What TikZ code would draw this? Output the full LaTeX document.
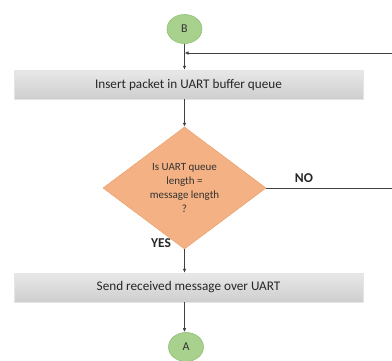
\documentclass[tikz,border=0pt]{standalone}
\usepackage{fontspec}
\setmainfont{Carlito}
\usetikzlibrary{shapes.geometric,arrows.meta}
\definecolor{cgreen}{HTML}{A9D18E}
\definecolor{cgreenb}{HTML}{8FBF72}
\definecolor{csalmon}{HTML}{F4B183}
\definecolor{csalmonb}{HTML}{E9A070}
\definecolor{linec}{HTML}{404040}
\begin{document}
\begin{tikzpicture}[x=1pt,y=-1pt,
  conn/.style={ellipse,fill=cgreen,draw=cgreenb,line width=0.6pt,minimum width=35pt,minimum height=29pt,inner sep=0pt,font=\fontsize{12}{14}\selectfont,text=black!80},
  procbox/.style={rectangle,draw=gray!20,top color=gray!18,bottom color=gray!38,minimum width=349pt,minimum height=29pt,inner sep=0pt,font=\fontsize{13.2}{15}\selectfont,text=black!85},
  decision/.style={diamond,fill=csalmon,draw=csalmonb,line width=0.5pt,minimum width=163pt,minimum height=122pt,aspect=1.34,inner sep=0pt,align=center,font=\fontsize{11}{13.7}\selectfont,text=black!80},
  flow/.style={draw=linec,line width=0.8pt,-{Latex[length=4pt,width=3.5pt]}},
  lbl/.style={font=\bfseries\fontsize{13.5}{15}\selectfont,text=black!85}
]
\useasboundingbox (0,0) rectangle (392,360);
\node[conn] (B) at (184.5,29) {B};
\node[procbox] (p1) at (188.5,84.5) {Insert packet in UART buffer queue};
\node[decision] (d) at (184.5,188) {Is UART queue\\length =\\message length\\?};
\node[procbox] (p2) at (188.5,287.5) {Send received message over UART};
\node[conn] (A) at (186,347) {A};
\coordinate (j) at (184.5,53);
\coordinate (rtop) at (392,53);
\coordinate (rno) at (392,188);
\draw[flow] (B) -- (B |- p1.north);
\draw[flow] (rtop) -- (j);
\draw[flow] (p1.south -| d.north) -- (d.north);
\draw[draw=linec,line width=0.8pt] (d.east) -- (rno);
\draw[flow] (d.south) -- (d.south |- p2.north);
\draw[flow] (p2.south -| d.south) -- (A.north -| d.south);
\node[lbl] (no) at (304,178) {NO};
\node[lbl] (yes) at (161,243) {YES};
\end{tikzpicture}
\end{document}
